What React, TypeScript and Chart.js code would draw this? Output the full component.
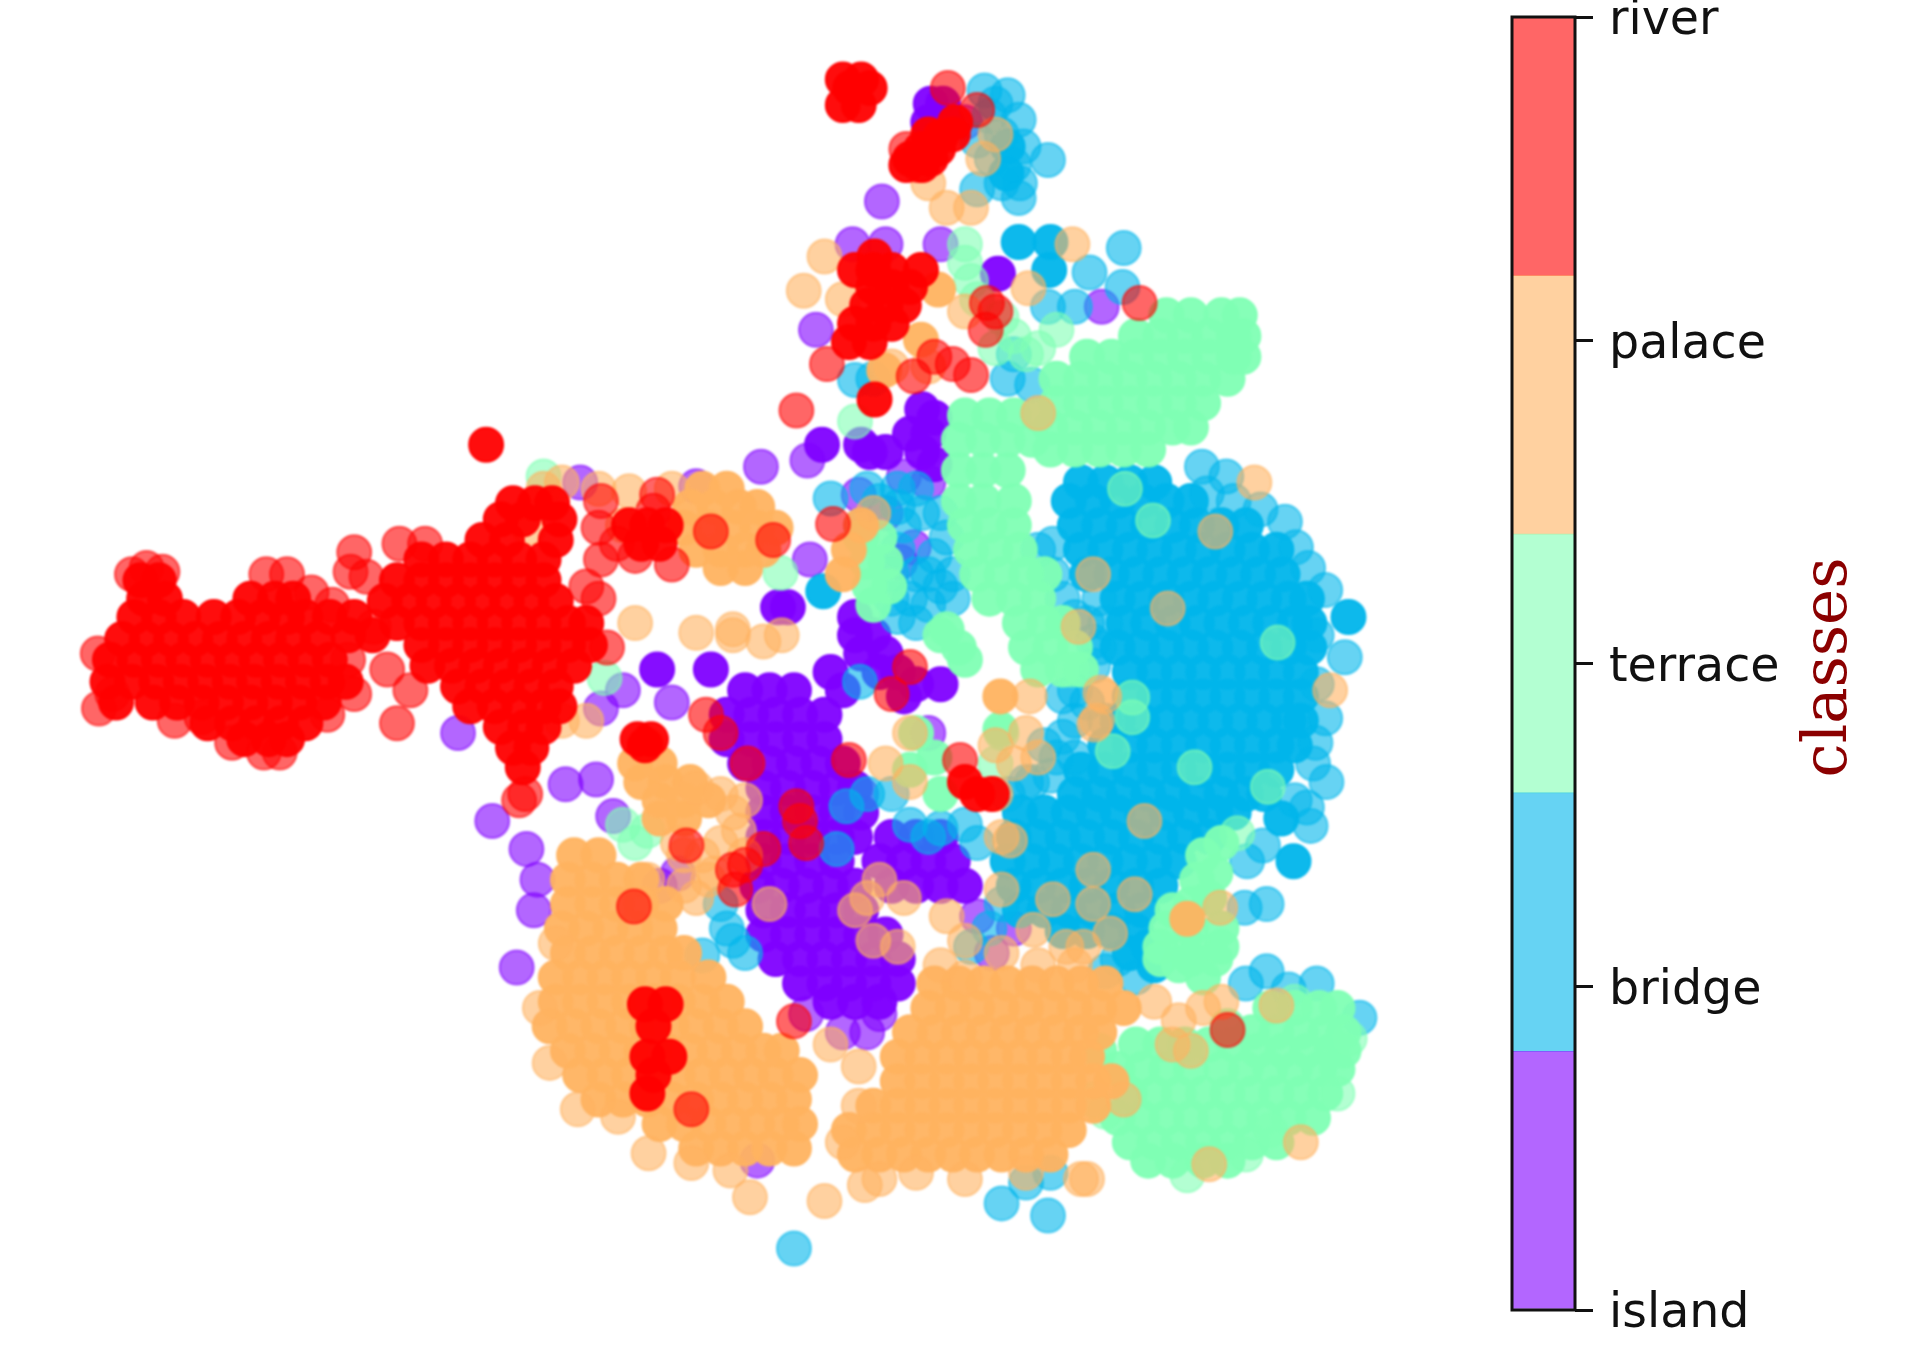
import React, { useEffect, useRef } from "react";
import { Chart, registerables } from "chart.js";

Chart.register(...registerables);

type Row = [number, number[]];
type Pt = [number, number];

const classNames = ["island", "bridge", "terrace", "palace", "river"];
const classColors = ["128,0,255", "0,181,235", "128,255,180", "255,179,96", "255,0,0"];
const colorbarSegment = [0.8, 0.8, 0.8, 0.8, 0.8];

// dense, nearly opaque regions: [y, [x, x, ...]]
const islandDense: Row[] = [
  [565, [610, 630, 650]], [585, [595, 615, 635, 655, 675]], [605, [595, 615, 635, 655, 675]],
  [625, [610, 630, 650, 670, 690]], [645, [625, 645, 665, 685, 700]], [665, [625, 645, 665, 685, 705]],
  [685, [625, 645, 665, 685, 700, 730, 750, 770]], [705, [625, 645, 665, 685, 720, 740, 760, 780]],
  [725, [620, 640, 660, 680, 700, 730, 750, 770, 790]], [745, [625, 645, 665, 685, 705]],
  [765, [625, 645, 665, 685, 705, 725]], [785, [635, 655, 675, 695, 715, 735]], [805, [655, 675, 695, 715, 735]],
  [820, [680, 700, 720]],
  [335, [755]], [342, [765]], [355, [760, 745]], [370, [755, 712, 725]], [380, [765]], [364, [673, 705]],
  [505, [700]], [520, [700, 715]], [535, [705, 725]], [550, [680, 720, 735]], [560, [750, 770]], [565, [690]], [570, [740]],
  [85, [762, 772]], [100, [760, 775]],
  [224, [817]], [497, [637, 645]], [548, [538, 582]],
];
const islandLoose: Pt[] = [
  [722, 165], [790, 100], [698, 200], [725, 200], [770, 200], [668, 270], [902, 251], [623, 382], [475, 395], [570, 398],
  [740, 390], [760, 395], [703, 405], [725, 420], [663, 458], [661, 377], [748, 448], [737, 460], [550, 575], [510, 565],
  [492, 580], [375, 600], [463, 642], [488, 638], [403, 672], [502, 668], [431, 695], [440, 720], [437, 745], [423, 792],
  [620, 950], [690, 845], [710, 845], [720, 830], [660, 830], [760, 600], [705, 650], [540, 725], [555, 715], [800, 750],
  [830, 760], [812, 780],
];
const bridgeDense: Row[] = [
  [395, [885, 905, 925, 945]], [410, [875, 895, 915, 935, 955, 975]],
  [430, [880, 900, 920, 940, 960, 980, 1000, 1020]], [450, [885, 905, 925, 945, 965, 985, 1005, 1025, 1045]],
  [470, [890, 910, 930, 950, 970, 990, 1010, 1030, 1050]], [490, [915, 935, 955, 975, 995, 1015, 1035, 1055, 1070]],
  [510, [920, 940, 960, 980, 1000, 1020, 1040, 1060, 1072]], [530, [915, 935, 955, 975, 995, 1015, 1035, 1055, 1072]],
  [550, [925, 945, 965, 985, 1005, 1025, 1045, 1065]], [570, [925, 945, 965, 985, 1005, 1025, 1045, 1065]],
  [590, [915, 935, 955, 975, 995, 1015, 1035, 1055, 1065]], [610, [905, 925, 945, 965, 985, 1005, 1025, 1045, 1060]],
  [630, [885, 905, 925, 945, 965, 985, 1005, 1025, 1045]], [650, [880, 900, 920, 940, 960, 980, 1000, 1020, 1035]],
  [665, [835, 855, 875, 895, 915, 935, 955, 975, 995, 1010]], [685, [830, 850, 870, 890, 910, 930, 950, 970, 990]],
  [705, [825, 845, 865, 885, 905, 925, 945, 965]], [725, [830, 850, 870, 890, 910, 930, 950]],
  [745, [835, 855, 875, 895, 915, 935]], [762, [870, 890, 910, 930]], [775, [940]], [780, [925]], [790, [945]],
  [198, [834, 860]], [221, [859]], [505, [1104]], [705, [1059]], [670, [1049]],
  [120, [825]], [142, [824]], [484, [674]],
];
const bridgeLoose: Pt[] = [
  [984, 382], [1004, 390], [988, 404], [1010, 410], [1032, 417], [1052, 427], [1061, 448], [1071, 465], [1085, 483], [1101, 538],
  [1085, 588], [1077, 608], [1086, 640], [1070, 661], [1073, 676], [1034, 692], [1037, 740], [1019, 743], [1021, 705], [1078, 520],
  [1078, 560], [1075, 625], [1060, 655],
  [806, 74], [825, 78], [834, 98], [838, 120], [858, 131], [834, 162], [815, 85], [810, 95], [812, 130], [830, 135],
  [800, 115], [820, 110], [835, 150], [820, 150], [800, 155],
  [892, 223], [920, 203], [919, 235], [858, 251], [880, 251],
  [680, 408], [705, 430], [735, 400], [750, 400], [770, 420], [740, 430], [730, 470], [760, 470], [775, 440], [720, 410],
  [735, 415], [755, 420], [710, 400], [765, 455], [750, 470], [770, 480], [735, 450], [780, 470], [730, 490], [750, 510],
  [760, 495], [745, 490], [735, 505], [780, 490], [704, 558], [693, 660], [710, 650], [730, 650], [685, 695], [650, 1022],
  [820, 985], [858, 995], [840, 968], [860, 960], [575, 782], [1020, 805], [1037, 795], [1055, 810], [1078, 805], [1113, 833],
  [825, 310], [845, 315], [830, 290], [700, 311], [715, 310], [600, 770], [610, 780], [590, 740], [595, 760],
  [880, 590], [870, 603], [900, 530], [862, 470], [870, 490], [880, 505], [895, 545], [880, 620], [860, 635], [840, 640],
  [890, 510], [900, 490], [905, 510], [895, 525], [880, 565], [890, 575], [905, 590], [870, 570], [855, 610], [865, 620],
  [845, 640], [825, 650],
  [770, 678], [790, 675], [745, 675], [760, 685], [800, 690], [820, 740], [810, 760], [795, 775], [930, 800], [915, 785], [905, 795],
  [850, 450], [862, 445],
];
const terraceDense: Row[] = [
  [258, [955, 975, 1000, 1015]], [275, [930, 950, 970, 990, 1010, 1018]], [292, [890, 910, 930, 950, 970, 990, 1010, 1018]],
  [310, [865, 885, 905, 925, 945, 965, 985, 1005]], [330, [865, 885, 905, 925, 945, 965, 985]],
  [350, [860, 880, 900, 920, 940, 960, 975]], [368, [860, 880, 900, 920, 940]],
  [340, [790, 810, 830, 850]], [360, [785, 805, 825, 845]], [385, [785, 805, 825]], [410, [785, 805, 830]],
  [430, [790, 810, 830]], [450, [795, 815, 835]], [470, [800, 820, 840, 855]], [490, [810, 830, 850]],
  [510, [835, 855, 870]], [530, [840, 860, 880]], [548, [850, 870, 885]],
  [515, [775]], [520, [770]], [530, [785]], [540, [790]],
  [440, [705, 720]], [460, [710, 725]], [480, [712, 728]], [495, [715]],
  [825, [1040, 1060, 1080, 1095]], [840, [1005]], [845, [1025, 1045, 1065, 1085, 1100]], [855, [930, 950, 970, 990, 1010]],
  [860, [900, 1030, 1050, 1070, 1090, 1100]],
  [875, [915, 935, 955, 975, 1000, 1020, 1040, 1060, 1080, 1095]], [895, [925, 945, 965, 985, 1005, 1025, 1045, 1065, 1085]],
  [915, [915, 935, 955, 975, 995, 1015, 1035, 1055, 1075]], [935, [925, 945, 965, 985, 1005, 1025, 1045]],
  [950, [940, 960, 985, 1005]],
  [690, [1000]], [700, [985]], [715, [995]], [720, [980]], [735, [990]], [740, [975]], [745, [960]],
  [760, [955, 975, 1000]], [775, [950, 975, 1000]], [785, [950, 975, 995]], [790, [965]], [800, [985]],
  [600, [750]], [620, [765]], [630, [745]], [650, [770]], [597, [819]],
];
const terraceLoose: Pt[] = [
  [790, 200], [790, 215], [795, 230], [800, 245], [820, 260], [830, 275], [815, 285], [840, 290], [850, 285], [865, 270],
  [639, 469], [445, 390], [495, 555], [530, 680], [520, 690], [510, 675], [921, 400], [944, 426], [1046, 526], [978, 628],
  [1038, 644], [927, 571], [927, 587], [911, 615], [1013, 682], [877, 548], [1105, 850], [1095, 895], [972, 962], [1020, 945],
  [1040, 925], [905, 910], [895, 900], [1060, 820], [700, 345], [820, 600], [815, 625],
];
const palaceDense: Row[] = [
  [700, [470, 490]], [720, [465, 485, 505, 525]], [740, [465, 485, 505, 525, 545]], [760, [460, 480, 500, 520, 540]],
  [780, [465, 485, 505, 525, 545, 560]], [800, [455, 475, 495, 515, 535, 555, 580]],
  [820, [455, 475, 495, 515, 535, 555, 575, 595]], [840, [450, 470, 490, 510, 530, 550, 570, 590, 610]],
  [860, [465, 485, 505, 525, 545, 565, 585, 605, 625, 640]], [880, [475, 495, 515, 535, 555, 575, 595, 615, 635, 655]],
  [900, [490, 510, 530, 550, 570, 590, 610, 630, 650]], [920, [540, 560, 580, 600, 620, 640, 655]], [940, [570, 590, 610, 630, 650]],
  [805, [765, 785, 805, 825, 845, 865, 885, 905]], [825, [760, 780, 800, 820, 840, 860, 880, 900, 920]],
  [845, [745, 765, 785, 805, 825, 845, 865, 885, 900]], [865, [735, 755, 775, 795, 815, 835, 855, 875, 890]],
  [885, [735, 755, 775, 795, 815, 835, 855, 875, 895, 910]], [905, [715, 735, 755, 775, 795, 815, 835, 855, 875, 895]],
  [925, [695, 715, 735, 755, 775, 795, 815, 835, 855, 875]], [945, [700, 720, 740, 760, 780, 800, 820, 840, 860]],
  [400, [575, 595]], [415, [565, 585, 605, 620]], [432, [560, 580, 600, 620, 635]], [450, [570, 590, 610, 625]], [465, [590, 610]],
  [625, [520, 540]], [640, [525, 545, 565]], [655, [540, 560, 580]], [670, [540, 560]], [610, [530]],
  [430, [705]], [450, [695]], [470, [690]], [237, [768]], [278, [754]], [303, [724]], [570, [819]], [752, [972]],
];
const palaceLoose: Pt[] = [
  [455, 772], [442, 825], [450, 870], [473, 908], [506, 914], [531, 944], [566, 952], [598, 958], [614, 980], [675, 983],
  [590, 650], [600, 665], [610, 655], [555, 690], [575, 700], [585, 715], [605, 680], [590, 690], [610, 700], [580, 720],
  [570, 735], [480, 590], [460, 590], [490, 400], [515, 402],
  [460, 395], [445, 400], [510, 430], [550, 400], [433, 432], [520, 510], [570, 518], [600, 520], [625, 525], [703, 873],
  [690, 935], [703, 905], [720, 965], [708, 970], [790, 965], [750, 960], [885, 965], [890, 965], [840, 960], [920, 900],
  [945, 820], [965, 835], [985, 825], [1000, 820], [960, 855], [975, 860], [1045, 823], [1065, 935], [990, 953], [680, 855],
  [956, 498], [995, 435], [895, 470], [883, 513], [901, 567], [896, 593], [937, 672], [895, 712], [862, 736], [895, 740],
  [929, 732], [827, 688], [846, 761], [909, 764], [873, 775], [887, 775], [999, 743], [1027, 395], [1089, 565], [843, 570],
  [850, 338], [878, 200], [842, 236], [815, 110], [805, 130], [795, 170], [775, 170], [760, 150], [675, 210], [658, 238],
  [690, 245], [790, 255], [730, 300], [760, 300], [715, 420], [820, 685], [820, 728], [720, 720], [710, 735], [700, 745],
  [740, 735], [715, 770], [735, 775], [775, 750], [790, 770], [820, 780], [850, 790], [880, 790], [770, 790], [790, 800],
  [745, 600], [745, 640], [725, 625], [815, 610], [840, 600], [850, 620], [830, 625], [815, 650], [904, 570], [898, 590],
  [630, 740], [570, 645], [560, 700], [640, 520], [600, 515], [530, 720], [560, 725],
];
const riverDense: Row[] = [
  [475, [115, 130]], [490, [118, 135, 205, 225, 240]], [505, [110, 130, 150, 175, 195, 215, 235, 250, 270, 290]],
  [520, [285, 305]],
  [523, [100, 120, 140, 160, 180, 200, 220, 240, 260]], [540, [90, 110, 130, 150, 170, 190, 210, 230, 250, 270]],
  [558, [88, 108, 128, 148, 168, 188, 208, 228, 248, 268, 283]], [575, [95, 125, 145, 165, 185, 205, 225, 245, 265]],
  [592, [170, 190, 210, 230, 250]], [605, [200, 220, 235]],
  [412, [420, 438, 452]], [425, [410, 428, 458]], [442, [395, 415, 455]], [458, [345, 365, 385, 405, 425, 445]],
  [475, [325, 345, 365, 385, 405, 425, 445]], [492, [315, 335, 355, 375, 395, 415, 435, 455]],
  [510, [325, 345, 365, 385, 405, 425, 445, 465, 480]], [528, [345, 365, 385, 405, 425, 445, 465, 483]],
  [545, [350, 370, 390, 410, 430, 450, 470]], [562, [375, 395, 415, 435, 455]], [578, [385, 405, 425, 445, 458]],
  [595, [410, 430, 445]], [612, [420, 435]], [628, [428]],
  [65, [690, 705]], [72, [696, 712]], [86, [690, 703]], [364, [398]], [605, [522, 533]], [610, [528]],
  [210, [716]], [221, [700, 715, 730, 754]], [235, [715, 730, 745]], [250, [710, 725, 740]], [265, [700, 715, 730]], [280, [695, 712]],
  [430, [515, 530, 545]], [445, [525, 540]], [122, [754, 768]], [130, [745, 762]], [112, [770]], [110, [760, 780]], [135, [742, 755]], [100, [782]],
  [822, [528, 545]], [840, [535]], [865, [530, 548]], [880, [535]], [895, [530]], [327, [716]], [640, [790]], [650, [800, 812]],
];
const riverLoose: Pt[] = [
  [776, 72], [800, 90], [752, 135], [742, 122], [677, 298], [808, 248], [815, 255], [807, 270], [765, 292], [780, 298],
  [795, 307], [748, 308], [933, 248], [652, 336], [682, 429], [633, 442], [582, 435], [492, 410], [538, 405], [535, 418],
  [490, 432], [505, 445], [492, 458], [550, 462], [520, 455], [80, 535], [81, 580], [92, 568], [143, 590], [190, 608],
  [216, 616], [229, 616], [290, 452], [287, 468], [120, 465], [108, 470], [133, 468], [218, 470], [235, 470], [255, 485],
  [272, 495], [285, 540], [290, 568], [268, 585], [165, 587], [327, 445], [348, 445], [300, 472], [306, 513], [317, 548],
  [336, 565], [325, 592], [497, 530], [490, 490], [480, 480], [430, 650], [425, 655], [578, 585], [590, 600], [612, 625],
  [695, 622], [745, 546], [730, 568], [786, 622], [652, 660], [655, 672], [660, 690], [625, 695], [610, 708], [600, 712],
  [602, 728], [562, 692], [519, 742], [566, 908], [650, 836], [1005, 843],
];

const denseByClass = [islandDense, bridgeDense, terraceDense, palaceDense, riverDense];
const looseByClass = [islandLoose, bridgeLoose, terraceLoose, palaceLoose, riverLoose];

function fromRows(rows: Row[]) {
  return rows.flatMap(([y, xs]) => xs.map((x) => ({ x, y })));
}
function fromPairs(pairs: Pt[]) {
  return pairs.map(([x, y]) => ({ x, y }));
}
function pointStyle(rgb: string, alpha: number) {
  const c = `rgba(${rgb},${alpha})`;
  return { backgroundColor: c, borderColor: c, borderWidth: 2, pointRadius: 17, pointHoverRadius: 17 };
}

const colorbarFrame = {
  id: "colorbarFrame",
  afterDatasetsDraw(chart: any) {
    const { ctx, chartArea: a } = chart;
    ctx.save();
    ctx.strokeStyle = "#111";
    ctx.lineWidth = 3;
    ctx.strokeRect(a.left, a.top, a.right - a.left, a.bottom - a.top);
    ctx.translate(350, (a.top + a.bottom) / 2 + 4);
    ctx.rotate(-Math.PI / 2);
    ctx.fillStyle = "#8b0000";
    ctx.font = '61px "DejaVu Serif"';
    ctx.textAlign = "center";
    ctx.textBaseline = "middle";
    ctx.fillText("classes", 0, 0);
    ctx.restore();
  },
};

export default function App() {
  const scatterRef = useRef<HTMLCanvasElement>(null);
  const barRef = useRef<HTMLCanvasElement>(null);

  useEffect(() => {
    // Chart.js paints the first dataset last, so the list is reversed to keep river on top.
    const datasets: any[] = [];
    classNames.forEach((name, i) => {
      datasets.unshift({ label: name + " core", data: fromRows(denseByClass[i]), ...pointStyle(classColors[i], 0.95) });
      datasets.unshift({ label: name, data: fromPairs(looseByClass[i]), ...pointStyle(classColors[i], 0.6) });
    });
    const scatter = new Chart(scatterRef.current!, {
      type: "scatter",
      data: { datasets },
      options: {
        animation: false,
        responsive: false,
        devicePixelRatio: 1,
        layout: { padding: 0, autoPadding: false },
        plugins: { legend: { display: false }, tooltip: { enabled: false } },
        scales: {
          x: { display: false, min: 0, max: 1567 },
          y: { display: false, min: 0, max: 1105, reverse: true },
        },
      },
    });
    const bar = new Chart(barRef.current!, {
      type: "bar",
      data: {
        labels: ["classes"],
        datasets: classNames.map((name, i) => ({
          label: name,
          data: [colorbarSegment[i]],
          backgroundColor: `rgba(${classColors[i]},0.6)`,
          barPercentage: 1,
          categoryPercentage: 1,
        })),
      },
      options: {
        animation: false,
        responsive: false,
        devicePixelRatio: 1,
        layout: { padding: { left: 32, top: 17, bottom: 40, right: 0 }, autoPadding: false },
        plugins: { legend: { display: false }, tooltip: { enabled: false } },
        scales: {
          x: { display: false, stacked: true },
          y: {
            position: "right",
            stacked: true,
            min: 0,
            max: 4,
            afterFit(scale: any) {
              scale.width = 339;
              scale.paddingTop = 0;
              scale.paddingBottom = 0;
            },
            border: { display: false },
            grid: { drawOnChartArea: false, drawTicks: true, tickLength: 18, color: "#111", lineWidth: 3 },
            ticks: {
              stepSize: 1,
              padding: 16,
              color: "#111",
              font: { family: "DejaVu Sans", size: 47.5, lineHeight: 0.21 },
              callback: (v: any) => ["", classNames[v as number]],
            },
          },
        },
      },
      plugins: [colorbarFrame],
    });
    return () => {
      scatter.destroy();
      bar.destroy();
    };
  }, []);

  return (
    <div style={{ position: "fixed", left: 0, top: 0, width: 1914, height: 1350, background: "#fff" }}>
      <canvas ref={scatterRef} width={1914} height={1350} style={{ position: "absolute", left: 0, top: 0, filter: "blur(0.8px)" }} />
      <canvas ref={barRef} width={434} height={1350} style={{ position: "absolute", left: 1480, top: 0, filter: "blur(0.6px)" }} />
    </div>
  );
}
